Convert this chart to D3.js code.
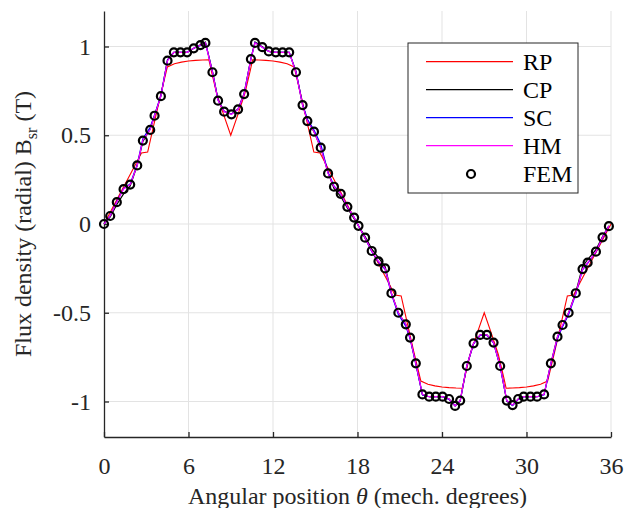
<!DOCTYPE html>
<html>
<head>
<meta charset="utf-8">
<script src="https://cdn.jsdelivr.net/npm/d3@7"></script>
<style>
	body { margin: 0; background: #fff; }
	svg { font-family: "Liberation Serif", "Times New Roman", serif; }
</style>
</head>
<body>
<div id="chartDiv"></div>
<script>
// FEM sample angles (mech. degrees) - the line models are plotted at the same angles
var theta = [0, 0.44, 0.91, 1.39, 1.86, 2.36, 2.76, 3.28, 3.59, 4.04, 4.51, 4.96, 5.43, 5.9, 6.37, 6.85, 7.2,
	7.7, 8.1, 8.53, 9.05, 9.52, 9.95, 10.43, 10.72, 11.24, 11.7, 12.2, 12.68, 13.15, 13.63, 14.1, 14.44,
	14.91, 15.39, 15.91, 16.33, 16.81, 17.28, 17.76, 18.07,
	18.54, 19.01, 19.49, 19.96, 20.41, 20.9, 21.43, 21.73, 22.14, 22.61, 23.09, 23.56, 24.04, 24.5,
	24.93, 25.29, 25.76, 26.24, 26.71, 27.19, 27.66, 28.13, 28.6, 29.01, 29.41, 29.8, 30.28, 30.75,
	31.25, 31.73, 32.2, 32.56, 32.99, 33.5, 33.98, 34.34, 34.93, 35.4, 35.85]

var fem = [0, 0.045, 0.123, 0.196, 0.222, 0.33, 0.47, 0.53, 0.61, 0.72, 0.92, 0.967, 0.967, 0.967, 0.99, 1.008, 1.02,
	0.855, 0.695, 0.633, 0.618, 0.646, 0.732, 0.929, 1.02, 0.996, 0.972, 0.967, 0.967, 0.967, 0.855, 0.67, 0.58,
	0.52, 0.43, 0.285, 0.21, 0.17, 0.097, 0.036, -0.01,
	-0.077, -0.152, -0.21, -0.25, -0.39, -0.5, -0.565, -0.64, -0.785, -0.96, -0.973, -0.973, -0.973, -0.986,
	-1.025, -0.995, -0.8, -0.672, -0.625, -0.625, -0.668, -0.8, -0.995, -1.02, -0.986, -0.973, -0.973, -0.973,
	-0.96, -0.785, -0.635, -0.569, -0.5, -0.39, -0.254, -0.218, -0.156, -0.075, -0.012]

var cp = [0, 0.04, 0.11, 0.17, 0.215, 0.33, 0.465, 0.535, 0.61, 0.72, 0.925, 0.967, 0.967, 0.967, 0.99, 1.01, 1.025,
	0.86, 0.7, 0.635, 0.62, 0.648, 0.735, 0.93, 1.025, 0.998, 0.972, 0.967, 0.967, 0.967, 0.86, 0.67, 0.585,
	0.52, 0.43, 0.29, 0.2, 0.155, 0.09, 0.03, -0.01,
	-0.07, -0.14, -0.19, -0.24, -0.39, -0.5, -0.565, -0.64, -0.785, -0.962, -0.973, -0.973, -0.973, -0.986,
	-1.025, -0.998, -0.8, -0.672, -0.625, -0.625, -0.668, -0.8, -0.998, -1.022, -0.986, -0.973, -0.973, -0.973,
	-0.96, -0.785, -0.635, -0.575, -0.5, -0.385, -0.24, -0.2, -0.145, -0.07, -0.01]

var sc = [0, 0.048, 0.126, 0.2, 0.225, 0.335, 0.48, 0.545, 0.615, 0.725, 0.922, 0.967, 0.967, 0.967, 0.99, 1.006, 1.022,
	0.858, 0.698, 0.634, 0.619, 0.646, 0.733, 0.931, 1.022, 0.996, 0.972, 0.967, 0.967, 0.967, 0.858, 0.675, 0.59,
	0.53, 0.45, 0.29, 0.215, 0.17, 0.1, 0.038, -0.01,
	-0.08, -0.155, -0.215, -0.255, -0.395, -0.51, -0.575, -0.645, -0.79, -0.962, -0.973, -0.973, -0.973, -0.988,
	-1.025, -0.996, -0.8, -0.675, -0.627, -0.627, -0.67, -0.802, -0.996, -1.022, -0.988, -0.973, -0.973, -0.973,
	-0.962, -0.79, -0.645, -0.578, -0.51, -0.395, -0.258, -0.222, -0.158, -0.078, -0.012]

var hm = [0, 0.045, 0.124, 0.197, 0.222, 0.33, 0.472, 0.532, 0.61, 0.72, 0.92, 0.967, 0.967, 0.967, 0.99, 1.008, 1.02,
	0.855, 0.695, 0.633, 0.618, 0.646, 0.732, 0.929, 1.02, 0.996, 0.972, 0.967, 0.967, 0.967, 0.855, 0.67, 0.58,
	0.52, 0.43, 0.285, 0.21, 0.17, 0.097, 0.036, -0.01,
	-0.077, -0.152, -0.21, -0.25, -0.39, -0.5, -0.565, -0.64, -0.785, -0.96, -0.973, -0.973, -0.973, -0.986,
	-1.025, -0.995, -0.8, -0.672, -0.625, -0.625, -0.668, -0.8, -0.995, -1.02, -0.986, -0.973, -0.973, -0.973,
	-0.96, -0.785, -0.635, -0.569, -0.5, -0.39, -0.254, -0.218, -0.156, -0.075, -0.012]

// relative permeance model has its own (coarser) angles
var rpTheta = [0, 0.5, 1, 1.5, 2, 2.66, 3.1, 3.4, 4, 4.5, 5, 5.5, 6, 6.5, 7, 7.45, 7.6, 8, 8.5, 9,
	9.5, 10, 10.4, 10.55, 11, 11.5, 12, 12.5, 13, 13.5, 14, 14.6, 14.9, 15.34, 16, 16.5, 17, 17.5, 18,
	18.5, 19, 19.5, 20, 20.66, 21.1, 21.4, 22, 22.5, 23, 23.5, 24, 24.5, 25, 25.45, 25.6, 26, 26.5, 27,
	27.5, 28, 28.4, 28.55, 29, 29.5, 30, 30.5, 31, 31.5, 32, 32.6, 32.9, 33.34, 34, 34.5, 35, 35.5, 36]

var rp = [0, 0.075, 0.15, 0.225, 0.3, 0.4, 0.405, 0.51, 0.72, 0.885, 0.903, 0.912, 0.918, 0.922, 0.924, 0.925, 0.87, 0.735, 0.615, 0.5,
	0.615, 0.735, 0.87, 0.925, 0.924, 0.922, 0.918, 0.912, 0.903, 0.885, 0.72, 0.51, 0.405, 0.4, 0.3, 0.225, 0.15, 0.075, 0,
	-0.075, -0.15, -0.225, -0.3, -0.4, -0.405, -0.51, -0.72, -0.885, -0.903, -0.912, -0.918, -0.922, -0.924, -0.925, -0.87, -0.735, -0.615, -0.5,
	-0.615, -0.735, -0.87, -0.925, -0.924, -0.922, -0.918, -0.912, -0.903, -0.885, -0.72, -0.51, -0.405, -0.4, -0.3, -0.225, -0.15, -0.075, 0]

var xTicks = [0, 6, 12, 18, 24, 30, 36]
var yTicks = [-1, -0.5, 0, 0.5, 1]

var w = 625, h = 508
var axisColour = "#262626"
var gridColour = "#e3e3e3"
var fontSize = "24px"

var svg = d3.select("#chartDiv")
	.append("svg")
	.attr("width", w)
	.attr("height", h)

// scales
var x = d3.scaleLinear().domain([0, 36]).range([104, 611])
var y = d3.scaleLinear().domain([-1.2, 1.2]).range([437, 11])

// grid
var gridG = svg.append("g")
gridG.selectAll(".xGrid")
	.data(xTicks.slice(1))
	.enter()
	.append("line")
	.attr("x1", function(d) {return x(d)})
	.attr("x2", function(d) {return x(d)})
	.attr("y1", y(-1.2))
	.attr("y2", y(1.2))
	.style("stroke", gridColour)
	.style("stroke-width", 1)
gridG.selectAll(".yGrid")
	.data(yTicks)
	.enter()
	.append("line")
	.attr("x1", x(0))
	.attr("x2", x(36))
	.attr("y1", function(d) {return y(d)})
	.attr("y2", function(d) {return y(d)})
	.style("stroke", gridColour)
	.style("stroke-width", 1)

// axes, ticks pointing inwards
var xAxis = d3.axisBottom(x)
	.tickValues(xTicks)
	.tickSizeInner(-5)
	.tickSizeOuter(0)
	.tickPadding(20)
var yAxis = d3.axisLeft(y)
	.tickValues(yTicks)
	.tickSizeInner(-5)
	.tickSizeOuter(0)
	.tickPadding(13)

var xG = svg.append("g")
	.attr("transform", "translate(0," + y(-1.2) + ")")
	.call(xAxis)
var yG = svg.append("g")
	.attr("transform", "translate(" + x(0) + ",0)")
	.call(yAxis)

svg.selectAll(".domain, .tick line")
	.style("stroke", axisColour)
	.style("stroke-width", 1.3)
svg.selectAll(".tick text")
	.style("font-family", "Liberation Serif")
	.style("font-size", fontSize)
	.style("fill", axisColour)
// plain hyphen minus like the original
yG.selectAll(".tick text").text(function(d) {return String(d)})

// axis labels
var xLabel = svg.append("text")
	.attr("x", (x(0) + x(36)) / 2)
	.attr("y", 504)
	.attr("text-anchor", "middle")
	.style("font-size", fontSize)
	.style("fill", axisColour)
xLabel.append("tspan").text("Angular position ")
xLabel.append("tspan").style("font-style", "italic").text("θ")
xLabel.append("tspan").text(" (mech. degrees)")

var yLabel = svg.append("text")
	.attr("transform", "translate(31," + (y(-1.2) + y(1.2)) / 2 + ") rotate(-90)")
	.attr("text-anchor", "middle")
	.style("font-size", fontSize)
	.style("fill", axisColour)
yLabel.append("tspan").text("Flux density (radial) B")
yLabel.append("tspan").attr("dy", 6).style("font-size", "16px").text("sr")
yLabel.append("tspan").attr("dy", -6).text(" (T)")

// lines
var line = d3.line()
	.x(function(d) {return x(d[0])})
	.y(function(d) {return y(d[1])})

var series = [
	{name: "RP", t: rpTheta, v: rp, colour: "#ff0000", width: 1.1},
	{name: "CP", t: theta, v: cp, colour: "#000000", width: 1.2},
	{name: "SC", t: theta, v: sc, colour: "#0000ff", width: 1.2},
	{name: "HM", t: theta, v: hm, colour: "#ff00ff", width: 1.2}
]

var lineG = svg.append("g")
lineG.selectAll(".series")
	.data(series)
	.enter()
	.append("path")
	.attr("d", function(s) {return line(d3.zip(s.t, s.v))})
	.style("fill", "none")
	.style("stroke", function(s) {return s.colour})
	.style("stroke-width", function(s) {return s.width})

// FEM markers on top
svg.append("g")
	.selectAll(".fem")
	.data(d3.zip(theta, fem))
	.enter()
	.append("circle")
	.attr("cx", function(d) {return x(d[0])})
	.attr("cy", function(d) {return y(d[1])})
	.attr("r", 4)
	.style("fill", "none")
	.style("stroke", "#000")
	.style("stroke-width", 2.2)

// legend
var legG = svg.append("g")
legG.append("rect")
	.attr("x", 408)
	.attr("y", 43)
	.attr("width", 170)
	.attr("height", 150)
	.style("fill", "#fff")
	.style("stroke", "#262626")
	.style("stroke-width", 1)

var legRows = [61.7, 89.6, 117.7, 145.7, 174]
var legItems = series.map(function(s) {return {name: s.name, colour: s.colour}}).concat([{name: "FEM", marker: true}])

legItems.forEach(function(d, i) {
	if (d.marker) {
		legG.append("circle")
			.attr("cx", 471)
			.attr("cy", legRows[i])
			.attr("r", 4)
			.style("fill", "none")
			.style("stroke", "#000")
			.style("stroke-width", 2.2)
	} else {
		legG.append("line")
			.attr("x1", 426)
			.attr("x2", 513)
			.attr("y1", legRows[i])
			.attr("y2", legRows[i])
			.style("stroke", d.colour)
			.style("stroke-width", 1.2)
	}
	legG.append("text")
		.attr("x", 523)
		.attr("y", legRows[i])
		.attr("dy", "0.35em")
		.style("font-size", fontSize)
		.style("fill", "#000")
		.text(d.name)
})
</script>
</body>
</html>
